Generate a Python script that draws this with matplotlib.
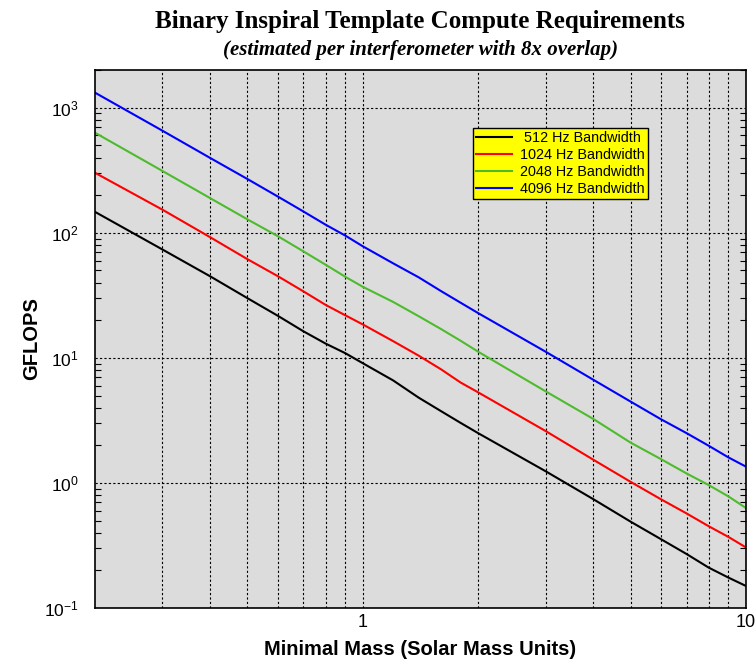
import matplotlib
matplotlib.use("Agg")
import matplotlib.pyplot as plt
from matplotlib.ticker import LogLocator, NullFormatter, FixedLocator

# minimal mass (solar masses) and compute need (GFLOPS) per bandwidth
mass = [0.2, 0.3, 0.4, 0.5, 0.6, 0.7, 0.8, 0.9, 1.0, 1.2, 1.4, 1.6, 1.8, 2.0,
        3, 4, 5, 6, 7, 8, 9, 10]
bw512 = [147, 73.5, 44.8, 30, 21.7, 16.3, 13.0, 10.9, 9.06, 6.6, 4.8, 3.75, 3.02, 2.5,
         1.24, 0.74, 0.49, 0.355, 0.27, 0.21, 0.175, 0.15]
bw1024 = [302, 153, 92, 61.5, 45, 34, 26.5, 21.9, 18.5, 13.6, 10.4, 8.1, 6.35, 5.3,
          2.6, 1.53, 1.02, 0.74, 0.57, 0.45, 0.37, 0.305]
bw2048 = [631, 312, 189, 128, 94, 71, 55.5, 44.5, 37, 28, 21.5, 17, 13.7, 11.2,
          5.4, 3.24, 2.1, 1.55, 1.19, 0.96, 0.78, 0.63]
bw4096 = [1320, 655, 396, 269, 195, 148, 116, 95, 78, 57, 44, 34.2, 27.6, 22.8,
          11.2, 6.67, 4.47, 3.23, 2.5, 1.98, 1.6, 1.35]

labels = [" 512 Hz Bandwidth", "1024 Hz Bandwidth", "2048 Hz Bandwidth", "4096 Hz Bandwidth"]
colors = ["black", "red", "#4cbb2c", "blue"]

plt.rcParams['font.family'] = ['Liberation Sans', 'DejaVu Sans']
plt.rcParams['mathtext.default'] = 'regular'

fig = plt.figure(figsize=(7.56, 6.62), dpi=100)
ax = fig.add_axes([0.1257, 0.0816, 0.861, 0.8125])
ax.set_facecolor("#dcdcdc")

for series, lab, col in zip([bw512, bw1024, bw2048, bw4096], labels, colors):
    ax.plot(mass, series, color=col, lw=1.5, label=lab)

ax.set_xscale("log")
ax.set_yscale("log")
ax.set_xlim(0.2, 10)
ax.set_ylim(0.1, 2000)

ax.xaxis.set_major_locator(FixedLocator([1, 10]))
ax.xaxis.set_minor_locator(FixedLocator([0.3, 0.4, 0.5, 0.6, 0.7, 0.8, 0.9,
                                          2, 3, 4, 5, 6, 7, 8, 9]))
ax.set_xticklabels(["1", "10"])
ax.xaxis.set_minor_formatter(NullFormatter())
ax.yaxis.set_major_locator(FixedLocator([0.1, 1, 10, 100, 1000]))
ax.set_yticklabels(["$10^{-1}$", "$10^{0}$", "$10^{1}$", "$10^{2}$", "$10^{3}$"])
ax.yaxis.set_minor_locator(LogLocator(base=10, subs=range(2, 10), numticks=20))
ax.yaxis.set_minor_formatter(NullFormatter())

ax.tick_params(axis="x", which="both", length=0, labelsize=13, pad=4)
ax.tick_params(axis="y", which="both", direction="in", left=True, right=True, labelsize=12.5)
ax.tick_params(axis="y", which="major", length=0, pad=12)
ax.tick_params(axis="y", which="minor", length=4, width=0.8)

ax.grid(True, which="major", axis="both", color="black", ls=(0, (2, 2)), lw=0.8)
ax.grid(True, which="minor", axis="x", color="black", ls=(0, (2, 2)), lw=0.8)
for s in ax.spines.values():
    s.set_linewidth(1.2)

ax.set_xlabel("Minimal Mass (Solar Mass Units)", fontsize=14.5, fontweight="bold", labelpad=7)
ax.set_ylabel("GFLOPS", fontsize=14.5, fontweight="bold")
ax.yaxis.set_label_coords(-0.083, 0.5)

fig.text(0.556, 0.968, "Binary Inspiral Template Compute Requirements",
         ha="center", va="center", fontsize=18, fontweight="bold", family="Liberation Serif")
fig.text(0.556, 0.925, "(estimated per interferometer with 8x overlap)",
         ha="center", va="center", fontsize=15, fontweight="bold", style="italic",
         family="Liberation Serif")

leg = ax.legend(loc="upper right", bbox_to_anchor=(0.849, 0.892), fontsize=10.4,
                frameon=True, fancybox=False, facecolor="yellow", edgecolor="black",
                framealpha=1, borderpad=0.2, labelspacing=0.2, handlelength=2.5,
                handletextpad=0.55, borderaxespad=0)
leg.get_frame().set_linewidth(1.0)

fig.savefig("out.png", dpi=100)
